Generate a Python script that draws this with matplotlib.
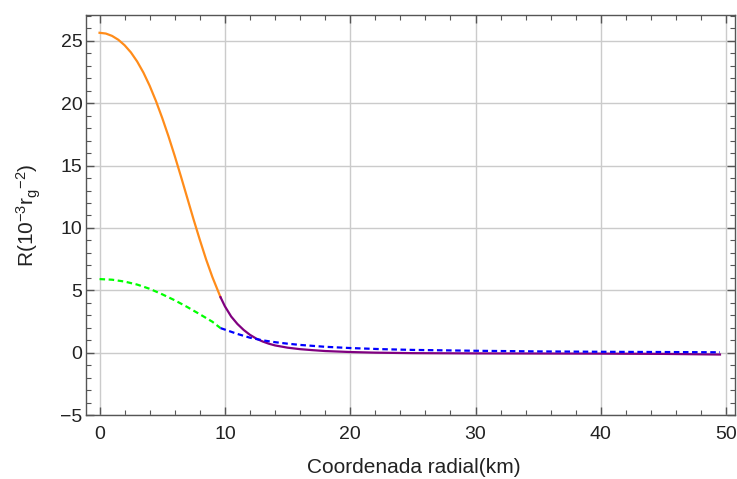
import matplotlib
matplotlib.use("Agg")
import matplotlib.pyplot as plt
from matplotlib.ticker import MultipleLocator

plt.rcParams["font.family"] = ["Liberation Sans", "DejaVu Sans"]
plt.rcParams["mathtext.fontset"] = "custom"
plt.rcParams["mathtext.rm"] = "Liberation Sans"
plt.rcParams["mathtext.it"] = "Liberation Sans"

# Interior solution (r < R_star)
r_in = [0.0, 0.5, 1.0, 1.5, 2.0, 2.5, 3.0, 3.5, 4.0, 4.5, 5.0, 5.5, 6.0,
        6.5, 7.0, 7.5, 8.0, 8.5, 9.0, 9.65]
R_in_full = [25.65, 25.59, 25.40, 25.09, 24.65, 24.08, 23.35, 22.46, 21.40,
             20.18, 18.82, 17.35, 15.77, 14.11, 12.40, 10.69, 9.05, 7.48,
             6.07, 4.45]
r_in_gr = [0.0, 1.0, 2.0, 3.0, 4.0, 5.0, 6.0, 7.0, 8.0, 9.0, 9.65]
R_in_gr = [5.9, 5.85, 5.7, 5.46, 5.12, 4.68, 4.2, 3.66, 3.08, 2.48, 1.97]

# Exterior solution (r > R_star)
r_out = [9.65, 10.0, 10.5, 11.0, 11.5, 12.0, 12.5, 13.0, 13.5, 14.0, 15.0,
         16.0, 17.0, 18.0, 20.0, 22.0, 25.0, 30.0, 35.0, 40.0, 45.0, 49.5]
R_out_full = [4.45, 3.72, 2.9, 2.3, 1.82, 1.43, 1.13, 0.9, 0.72, 0.58, 0.4,
              0.28, 0.2, 0.13, 0.05, 0.0, -0.04, -0.06, -0.07, -0.08, -0.1,
              -0.15]
r_out_gr = [9.65, 10.0, 11.0, 12.0, 13.0, 14.0, 15.0, 16.0, 18.0, 20.0,
            22.5, 25.0, 30.0, 35.0, 40.0, 45.0, 49.5]
R_out_gr = [1.97, 1.85, 1.5, 1.2, 0.99, 0.84, 0.72, 0.62, 0.47, 0.37,
            0.28, 0.22, 0.15, 0.1, 0.07, 0.05, 0.03]

fig = plt.figure(figsize=(7.37, 4.79), dpi=100)
ax = fig.add_axes([0.1167, 0.1336, 0.8806, 0.8357])

lw = 1.6
ax.plot(r_in, R_in_full, color="#FF8C1A", lw=lw, zorder=3)
ax.plot(r_out, R_out_full, color="#800080", lw=lw, zorder=3)
ax.plot(r_in_gr, R_in_gr, color="#00FF00", lw=lw, dashes=(2.5, 1.6), zorder=3)
ax.plot(r_out_gr, R_out_gr, color="#0000FF", lw=lw, dashes=(2.5, 1.6), zorder=3)

ax.set_xlim(-1.08, 50.7)
ax.set_ylim(-5, 27.1)
ax.xaxis.set_major_locator(MultipleLocator(10))
ax.xaxis.set_minor_locator(MultipleLocator(2))
ax.yaxis.set_major_locator(MultipleLocator(5))
ax.yaxis.set_minor_locator(MultipleLocator(1))

ax.grid(True, which="major", color="#CBCBCB", lw=1.0, zorder=0)
for s in ax.spines.values():
    s.set_color("#555555")
    s.set_linewidth(1.0)
ax.tick_params(which="both", direction="in", top=True, right=True,
               color="#555555", labelsize=14, labelcolor="#222222")
ax.tick_params(which="major", length=6, width=1.0)
ax.tick_params(which="minor", length=3.5, width=0.8)
ax.tick_params(axis="x", which="major", pad=8)
ax.tick_params(axis="y", which="major", pad=2.5)

ax.set_xlabel("Coordenada radial(km)", fontsize=15, color="#222222")
ax.xaxis.label.set_va("baseline")
ax.xaxis.set_label_coords(0.505, -0.145)
ax.set_ylabel(r"R(10$^{-3}$r$_g$$^{-2}$)", fontsize=15, color="#222222")
ax.yaxis.set_label_coords(-0.066, 0.5)

fig.savefig("out.png", dpi=100)
